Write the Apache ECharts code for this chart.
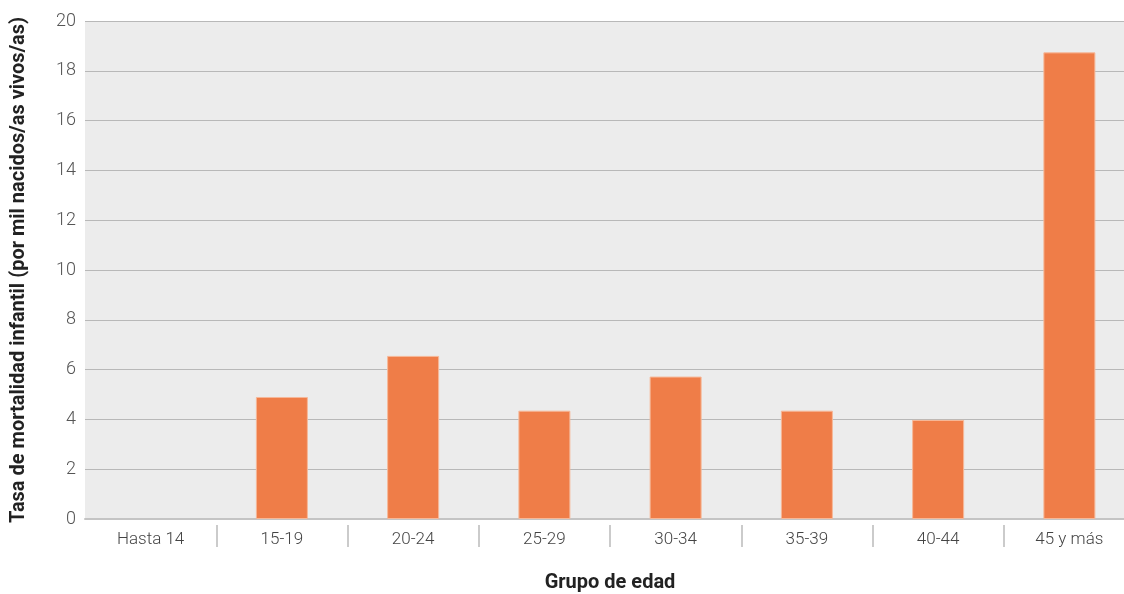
<!DOCTYPE html>
<html>
<head>
<meta charset="utf-8">
<script src="https://cdn.jsdelivr.net/npm/echarts@6/dist/echarts.min.js"></script>
<style>html,body{margin:0;padding:0;background:#fff}#c{width:1124px;height:594px}</style>
</head>
<body>
<div id="c"></div>
<script>
const categories = ['Hasta 14','15-19','20-24','25-29','30-34','35-39','40-44','45 y más'];
const values = [0, 4.9, 6.55, 4.35, 5.72, 4.35, 3.98, 18.74];
const yTicks = [0,2,4,6,8,10,12,14,16,18,20];

const barData = values.map(v => v === 0
  ? {value: v, itemStyle: {borderWidth: 0, opacity: 0}}
  : {value: v});

const chart = echarts.init(document.getElementById('c'));
chart.setOption({
  animation: false,
  backgroundColor: '#fff',
  grid: {left: 85, right: -11, top: 21, bottom: 75, show: true, backgroundColor: '#ececec', borderWidth: 0,
    containLabel: false, outerBoundsMode: 'none'},
  xAxis: [{
    type: 'category', data: categories,
    axisLine: {show: true, lineStyle: {color: '#c4c4c4', width: 2}},
    axisTick: {show: false},
    axisLabel: {color: '#444', fontSize: 17, fontFamily: 'Roboto', fontWeight: 300, margin: 12},
    name: 'Grupo de edad', nameLocation: 'middle', nameGap: 54,
    nameTextStyle: {color: '#222', fontSize: 20, fontWeight: 'bold', fontFamily: 'Roboto'}
  }, {
    type: 'value', min: 0, max: 8, position: 'bottom', offset: 6,
    axisLine: {show: false}, splitLine: {show: false},
    axisLabel: {show: false},
    axisTick: {show: true, length: 22, customValues: [1,2,3,4,5,6,7], lineStyle: {color: '#bbb', width: 1.5}}
  }],
  yAxis: {
    type: 'value', min: 0, max: 20, interval: 2,
    axisLine: {show: false}, axisTick: {show: false},
    splitLine: {lineStyle: {color: '#b8b8b8', width: 1}},
    axisLabel: {color: '#555', fontSize: 18, fontFamily: 'Roboto', fontWeight: 300, margin: 9,
      customValues: yTicks},
    name: 'Tasa de mortalidad infantil (por mil nacidos/as vivos/as)', nameLocation: 'middle', nameGap: 56,
    nameTextStyle: {color: '#222', fontSize: 20, fontWeight: 'bold', fontFamily: 'Roboto'}
  },
  series: [{
    type: 'bar', data: barData, barWidth: 52, xAxisIndex: 0,
    itemStyle: {color: '#ef7d48', borderColor: '#f6b898', borderWidth: 1}
  }]
});
</script>
</body>
</html>
